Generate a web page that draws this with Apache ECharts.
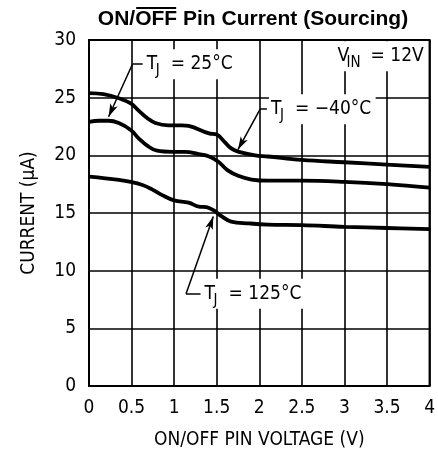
<!DOCTYPE html>
<html><head><meta charset="utf-8">
<script src="https://cdn.jsdelivr.net/npm/echarts@6/dist/echarts.min.js"></script>
<style>html,body{margin:0;padding:0;background:#fff}#c{width:438px;height:461px}</style>
</head><body><div id="c"></div>
<script>
// ---- data ----
const voltM40 = [0, 0.17, 0.35, 0.49, 0.58, 0.69, 0.78, 0.93, 1.09, 1.17, 1.41, 1.5, 1.6, 1.67, 1.76, 1.95, 2.1, 2.5, 3.0, 3.5, 4.0];
const currM40 = [25.4, 25.3, 24.95, 24.5, 23.9, 23.2, 22.8, 22.6, 22.6, 22.55, 21.9, 21.8, 21.1, 20.6, 20.3, 20.0, 19.9, 19.6, 19.4, 19.2, 19.0];
const volt25 = [0, 0.12, 0.23, 0.35, 0.49, 0.58, 0.7, 0.8, 0.98, 1.13, 1.29, 1.41, 1.52, 1.63, 1.76, 1.91, 2.1, 2.5, 3.0, 3.5, 4.0];
const curr25 = [22.9, 23.0, 23.0, 22.8, 22.2, 21.5, 20.75, 20.4, 20.3, 20.3, 20.1, 19.9, 19.45, 18.7, 18.2, 17.9, 17.8, 17.8, 17.7, 17.5, 17.2];
const volt125 = [0, 0.35, 0.49, 0.62, 0.74, 0.86, 1.0, 1.17, 1.29, 1.38, 1.47, 1.56, 1.67, 1.88, 2.1, 2.5, 3.0, 3.5, 4.0];
const curr125 = [18.15, 17.87, 17.7, 17.45, 17.05, 16.55, 16.1, 15.9, 15.55, 15.5, 15.2, 14.7, 14.25, 14.1, 14.0, 13.95, 13.8, 13.7, 13.6];
const xTicks = [0, 0.5, 1, 1.5, 2, 2.5, 3, 3.5, 4];
const yTicks = [0, 5, 10, 15, 20, 25, 30];
const titleParts = ['ON/', 'OFF', ' Pin Current (Sourcing)'];
const xName = 'ON/OFF PIN VOLTAGE (V)';
const yName = 'CURRENT (\u03bcA)';
// annotation anchors (data coords): corner of leader, arrow tip, horizontal stub length
const annLabels = ['25\u00b0C', '\u221240\u00b0C', '125\u00b0C'];
const annCorner = [[0.51, 27.9], [2.01, 24.0], [1.14, 8.0]];
const annTip = [[0.23, 23.35], [1.75, 20.5], [1.46, 14.7]];
const annStub = [0.12, 0.08, 0.17];
const vinAnchor = [2.92, 28.6];

const zip = (a, b) => a.map((v, i) => [v, b[i]]);
const FONT = "'DejaVu Sans Condensed', 'Liberation Sans Narrow', 'DejaVu Sans', sans-serif";
const chart = echarts.init(document.getElementById('c'));
const curveStyle = { color: '#000', width: 3.8 };
const leaderLines = [];
annCorner.forEach((c, i) => {
  leaderLines.push([{ coord: c, symbol: 'none' }, { coord: annTip[i], symbol: 'arrow', symbolSize: [6, 13] }]);
  leaderLines.push([{ coord: c, symbol: 'none' }, { coord: [c[0] + annStub[i], c[1]], symbol: 'none' }]);
});
const curve = d => ({ type: 'line', data: d, smooth: 0.4, showSymbol: false, lineStyle: curveStyle, z: 5 });
chart.setOption({
  animation: false,
  backgroundColor: '#fff',
  grid: { left: 89, right: 5, top: 40, bottom: 75, show: true, borderColor: '#000', borderWidth: 2, backgroundColor: 'transparent' },
  xAxis: {
    type: 'value', min: 0, max: 4, interval: 0.5,
    name: xName, nameLocation: 'middle', nameGap: 45,
    nameTextStyle: { fontFamily: FONT, fontSize: 19, color: '#000' },
    axisLine: { show: false }, axisTick: { show: false },
    axisLabel: { fontFamily: FONT, fontSize: 19, color: '#000', margin: 13, formatter: v => String(v) },
    splitLine: { show: true, lineStyle: { color: '#000', width: 1.6 } }
  },
  yAxis: {
    type: 'value', min: 0, max: 30, interval: 5,
    name: yName, nameLocation: 'middle', nameGap: 50, nameRotate: 90,
    nameTextStyle: { fontFamily: FONT, fontSize: 19, color: '#000' },
    axisLine: { show: false }, axisTick: { show: false },
    axisLabel: { fontFamily: FONT, fontSize: 19, color: '#000', margin: 13 },
    splitLine: { show: true, lineStyle: { color: '#000', width: 1.6 } }
  },
  series: [
    curve(zip(voltM40, currM40)),
    curve(zip(volt25, curr25)),
    curve(zip(volt125, curr125)),
    { type: 'line', data: [], z: 6,
      markLine: { silent: true, animation: false, label: { show: false },
        lineStyle: { color: '#000', width: 1.5, type: 'solid' }, data: leaderLines } }
  ]
});

// texts
const g = [];
function sub(x, y, main, subTxt, rest, restOff) {
  const st = { fontFamily: FONT, fill: '#000', verticalAlign: 'middle', align: 'left' };
  g.push({ type: 'text', x: x - 2, y: y, z: 10, style: Object.assign({ text: main + '   ' + rest.replace(/./g, '  '), fontSize: 19, fill: 'rgba(0,0,0,0)', backgroundColor: '#fff', padding: [3, 2, 8, 2] }, { fontFamily: FONT, verticalAlign: 'middle', align: 'left' }) });
  g.push({ type: 'text', x: x, y: y, z: 11, style: Object.assign({ text: main, fontSize: 19 }, st) });
  g.push({ type: 'text', x: x + 9, y: y + 7, z: 11, style: Object.assign({ text: subTxt, fontSize: 15 }, st) });
  g.push({ type: 'text', x: x + restOff, y: y, z: 11, style: Object.assign({ text: rest, fontSize: 19 }, st) });
}
annCorner.forEach((c, i) => {
  const p = chart.convertToPixel({ gridIndex: 0 }, [c[0] + annStub[i], c[1]]);
  sub(p[0] + 4, p[1], 'T', 'J', '= ' + annLabels[i], 24);
});
const vp = chart.convertToPixel({ gridIndex: 0 }, vinAnchor);
sub(vp[0], vp[1], 'V', 'IN', '= 12V', 33);

// title with overline on OFF
const tFont = "bold 21px 'Liberation Sans', Arial, sans-serif";
const ctx = document.createElement('canvas').getContext('2d');
ctx.font = tFont;
const w = titleParts.map(t => ctx.measureText(t).width);
const total = w.reduce((a, b) => a + b, 0);
const tx = 253 - total / 2, ty = 19;
g.push({ type: 'text', x: tx, y: ty, style: { text: titleParts.join(''), font: tFont, fill: '#000', verticalAlign: 'middle', align: 'left' } });
g.push({ type: 'line', shape: { x1: tx + w[0] + 1, y1: 8, x2: tx + w[0] + w[1] - 1, y2: 8 }, style: { stroke: '#000', lineWidth: 2 } });
chart.setOption({ graphic: g });
</script></body></html>
